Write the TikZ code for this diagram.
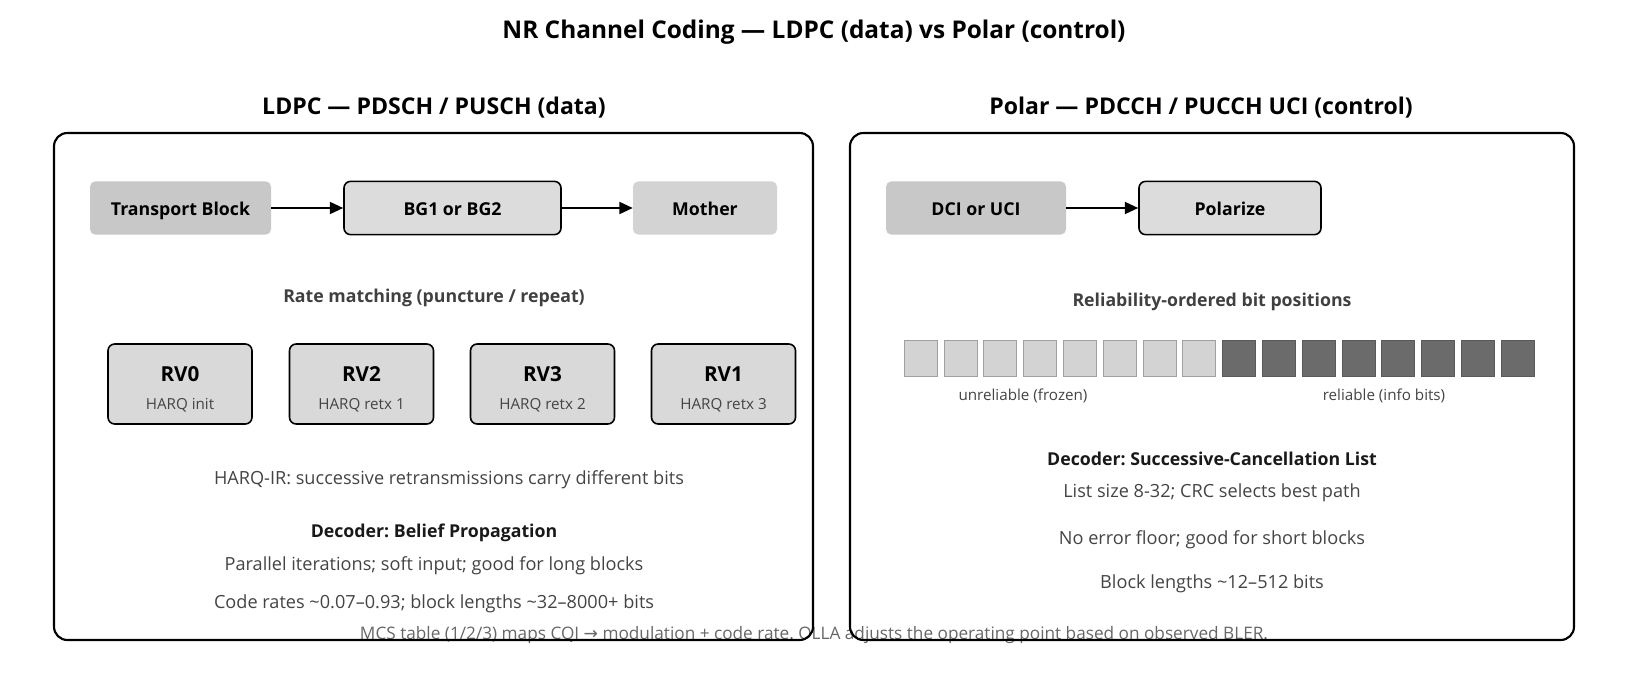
\documentclass[tikz,border=0pt]{standalone}
\usepackage{fontspec}
\setmainfont{Open Sans}
\newfontfamily\symfont{DejaVu Sans}
\usepackage{xcolor}
\usepackage{tikz}
\usetikzlibrary{arrows.meta}
\frenchspacing

\definecolor{inkgray}{HTML}{444444}
\definecolor{footgray}{HTML}{666666}
\definecolor{srcfill}{HTML}{C8C8C8}
\definecolor{encfill}{HTML}{DCDCDC}
\definecolor{outfill}{HTML}{D3D3D3}
\definecolor{rvfill}{HTML}{D9D9D9}
\definecolor{frozfill}{HTML}{D3D3D3}
\definecolor{frozline}{HTML}{A0A0A0}
\definecolor{infofill}{HTML}{6B6B6B}
\definecolor{infoline}{HTML}{5A5A5A}

\begin{document}
\begin{tikzpicture}[x=0.75pt,y=-0.75pt,
    panel/.style={draw,line width=1.6pt,rounded corners=10pt},
    src/.style={fill=srcfill,rounded corners=4pt,minimum width=#1*0.75pt,minimum height=40pt,text height=12.5pt,text depth=2pt,font=\fontsize{13.3}{15}\selectfont\bfseries},
    enc/.style={draw,line width=1.2pt,fill=encfill,rounded corners=5pt,minimum width=#1*0.75pt,minimum height=40pt,text height=12.5pt,text depth=2pt,font=\fontsize{13.3}{15}\selectfont\bfseries},
    out/.style={fill=outfill,rounded corners=4pt,minimum width=#1*0.75pt,minimum height=40pt,text height=12.5pt,text depth=2pt,font=\fontsize{13.3}{15}\selectfont\bfseries},
    rv/.style={draw,line width=1.2pt,fill=rvfill,rounded corners=5pt,minimum width=108pt,minimum height=60pt},
    frozen/.style={draw=frozline,fill=frozfill,minimum width=24.75pt,minimum height=27pt,inner sep=0pt},
    info/.style={draw=infoline,fill=infofill,minimum width=24.75pt,minimum height=27pt,inner sep=0pt},
    head/.style={font=\fontsize{17.3}{20}\selectfont\bfseries},
    sub/.style={font=\fontsize{13.3}{15}\selectfont\bfseries,text=black!90},
    body/.style={font=\fontsize{13.6}{16}\selectfont,text=inkgray},
    small/.style={font=\fontsize{11.4}{13}\selectfont,text=inkgray},
    flow/.style={-{Triangle[length=10pt,width=9pt]},line width=1.3pt}]
    %
    \useasboundingbox (0,0) rectangle (1628,688);
    %
    \node[font=\fontsize{18.3}{21}\selectfont\bfseries] (title) at (814,32) {NR Channel Coding — LDPC (data) vs Polar (control)};
    \node[font=\fontsize{12.9}{15}\selectfont,text=footgray] (foot) at (814,635) {MCS table (1/2/3) maps CQI {\symfont→} modulation + code rate. OLLA adjusts the operating point based on observed BLER.};
    %
    \draw[panel] (54,133) rectangle (813,640);
    \draw[panel] (850,133) rectangle (1574,640);
    \node[head] (lhead) at (434,108) {LDPC — PDSCH / PUSCH (data)};
    \node[head] (rhead) at (1201,108) {Polar — PDCCH / PUCCH UCI (control)};
    %
    % LDPC side
    \node[src=181] (tb) at (180.5,208) {Transport Block};
    \node[enc=217] (bg) at (452.5,208) {BG1 or BG2};
    \node[out=144] (mother) at (705,208) {Mother};
    \draw[flow] (tb) -- (bg);
    \draw[flow] (bg) -- (mother);
    %
    \node[sub,text=black!75] (rm) at (434,298) {Rate matching (puncture / repeat)};
    %
    \node[rv] (rv0) at (180,384) {};
    \node[rv] (rv2) at (361.5,384) {};
    \node[rv] (rv3) at (542.5,384) {};
    \node[rv] (rv1) at (723.5,384) {};
    \foreach \n/\t/\s in {rv0/RV0/HARQ init,rv2/RV2/HARQ retx 1,rv3/RV3/HARQ retx 2,rv1/RV1/HARQ retx 3}{
        \node[font=\fontsize{15.5}{17}\selectfont\bfseries] at ([yshift=7.5pt]\n.center) {\t};
        \node[small] at ([yshift=-16pt]\n.center) {\s};
    }
    %
    \node[body] (harq) at (449,480) {HARQ-IR: successive retransmissions carry different bits};
    \node[sub] (bp) at (434,533) {Decoder: Belief Propagation};
    \node[body] (bp1) at (434,566) {Parallel iterations; soft input; good for long blocks};
    \node[body] (bp2) at (434,604) {Code rates \textasciitilde0.07–0.93; block lengths \textasciitilde32–8000+ bits};
    %
    % Polar side
    \node[src=180] (dci) at (976,208) {DCI or UCI};
    \node[enc=182] (pol) at (1230,208) {Polarize};
    \draw[flow] (dci) -- (pol);
    %
    \node[sub,text=black!75] (rel) at (1212,302) {Reliability-ordered bit positions};
    \foreach \i in {0,...,7}
        \node[frozen] (b\i) at (920.5+39.8*\i,358) {};
    \foreach \i in {8,...,15}
        \node[info] (b\i) at (920.5+39.8*\i,358) {};
    \node[small] (unrel) at (1023,396) {unreliable (frozen)};
    \node[small] (relb) at (1384,396) {reliable (info bits)};
    %
    \node[sub] (scl) at (1212,459) {Decoder: Successive-Cancellation List};
    \node[body] (scl1) at (1212,493) {List size 8-32; CRC selects best path};
    \node[body] (scl2) at (1212,540) {No error floor; good for short blocks};
    \node[body] (scl3) at (1212,584) {Block lengths \textasciitilde12–512 bits};
    %
\end{tikzpicture}
\end{document}
